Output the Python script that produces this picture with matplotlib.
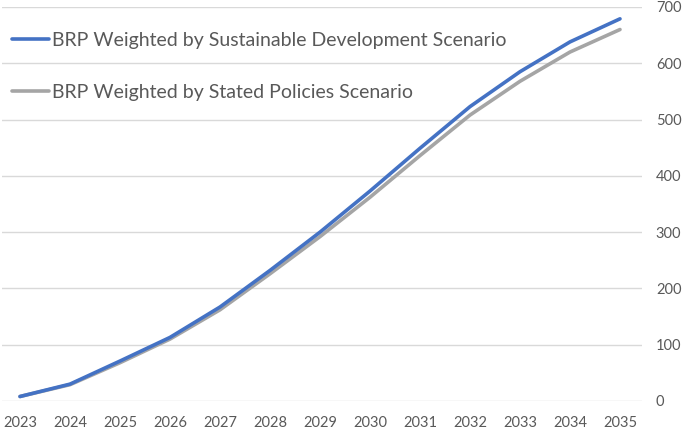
import matplotlib.pyplot as plt

years = [2023, 2024, 2025, 2026, 2027, 2028, 2029, 2030, 2031, 2032, 2033, 2034, 2035]
sds_values = [8, 30, 71, 113, 167, 232, 300, 373, 449, 523, 585, 638, 679]
steps_values = [8, 29, 68, 110, 162, 226, 292, 362, 436, 508, 568, 620, 660]
series_labels = [
    "BRP Weighted by Sustainable Development Scenario",
    "BRP Weighted by Stated Policies Scenario",
]
y_ticks = [0, 100, 200, 300, 400, 500, 600, 700]

font_color = "#595959"
plt.rcParams["font.family"] = ["Lato", "DejaVu Sans"]

fig = plt.figure(figsize=(6.85, 4.29), dpi=100)
ax = fig.add_axes([2 / 685, 1 - 401 / 429, 640 / 685, 394 / 429])

ax.plot(years, sds_values, color="#4472C4", lw=2.6, solid_capstyle="round",
        label=series_labels[0], zorder=3)
ax.plot(years, steps_values, color="#A5A5A5", lw=2.6, solid_capstyle="round",
        label=series_labels[1], zorder=2)

ax.set_xlim(2022.64, 2035.44)
ax.set_ylim(0, 700)
ax.set_xticks(years)
ax.set_yticks(y_ticks)
ax.yaxis.tick_right()
ax.tick_params(axis="both", length=0, labelsize=10.5, labelcolor=font_color)
ax.tick_params(axis="x", pad=10.5)
ax.tick_params(axis="y", pad=10)
ax.grid(axis="y", color="#D9D9D9", lw=1)
ax.set_axisbelow(True)
for s in ax.spines.values():
    s.set_visible(False)

legend = ax.legend(
    loc="upper left",
    bbox_to_anchor=(12 / 685, 1 - 32 / 429),
    bbox_transform=fig.transFigure,
    frameon=False,
    fontsize=14,
    handlelength=1.9,
    handletextpad=0.15,
    labelspacing=1.8,
    borderaxespad=0,
    borderpad=0,
)
plt.setp(legend.get_texts(), color=font_color)

fig.savefig("out.png", dpi=100)
